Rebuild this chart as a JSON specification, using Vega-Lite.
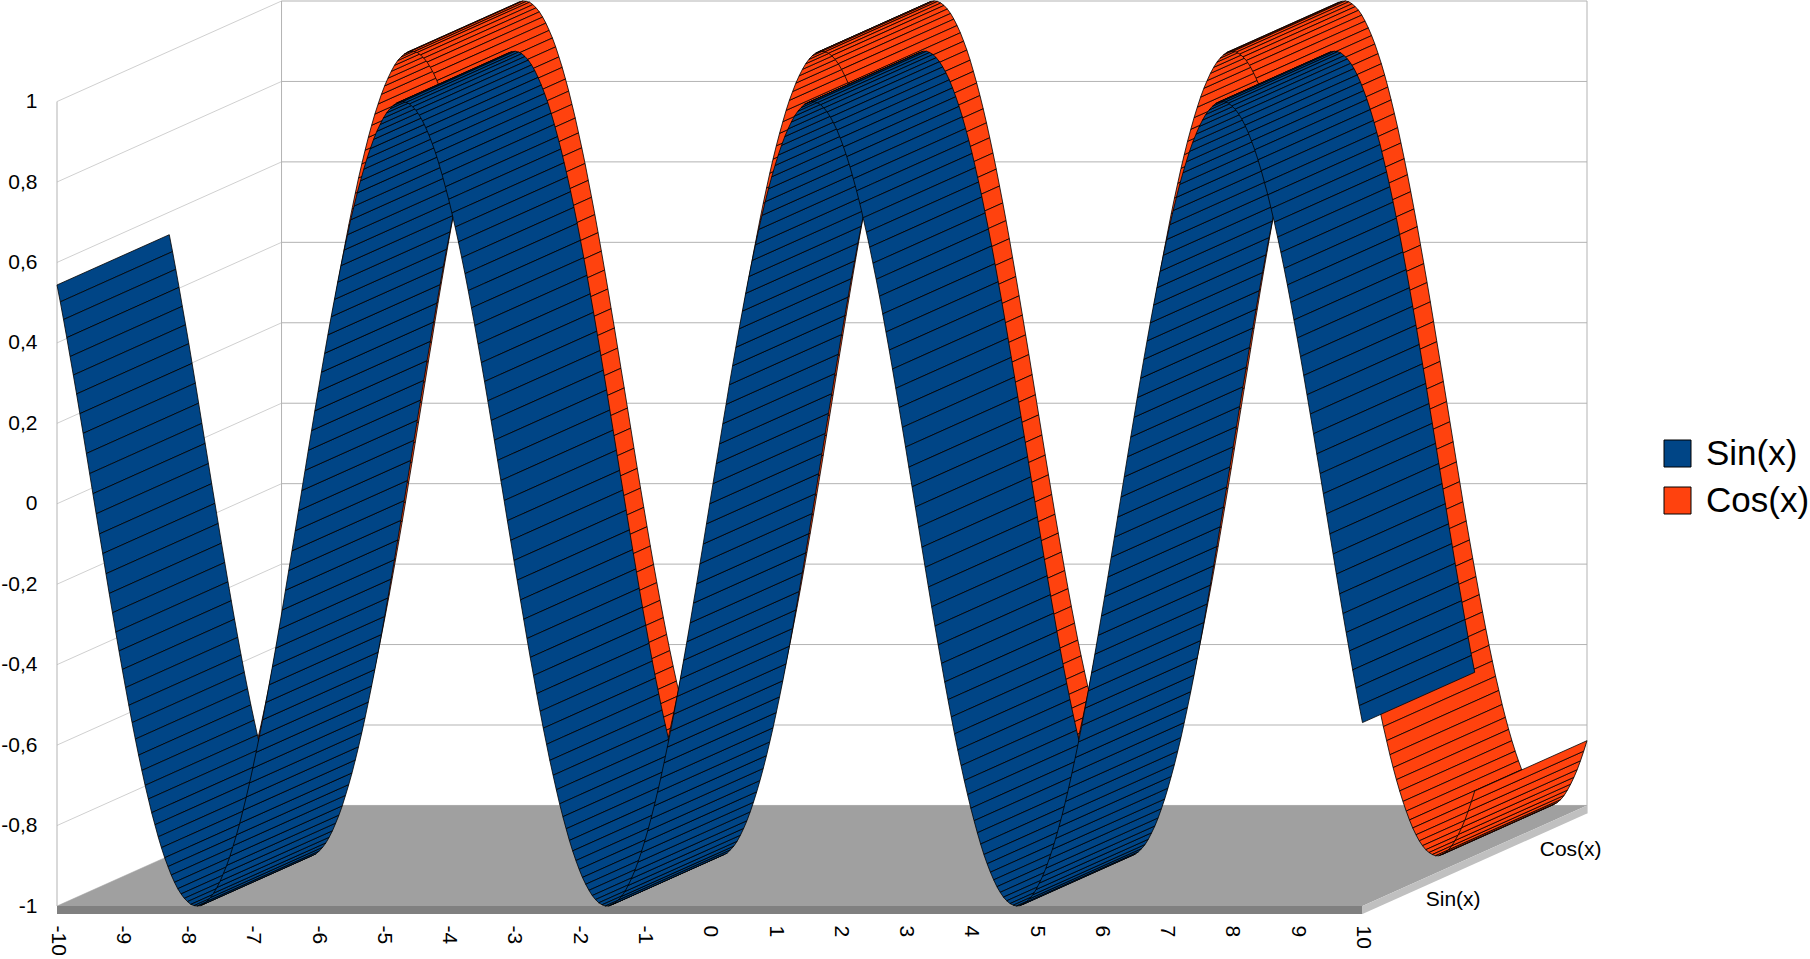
{"$schema":"https://vega.github.io/schema/vega-lite/v6.json","width":1530,"height":905,"padding":{"left":57,"top":1,"right":223,"bottom":53},"autosize":"none","background":"white","resolve":{"axis":{"x":"independent","y":"independent"}},"config":{"view":{"stroke":null},"axis":{"labelFont":"Liberation Sans","labelFontSize":21,"labelColor":"#000000","domain":false,"ticks":false,"grid":false,"title":null}},
"datasets":{"curve":[
{"x":-10,"sin":0.544,"cos":-0.839},{"x":-9.95,"sin":0.502,"cos":-0.865},{"x":-9.9,"sin":0.458,"cos":-0.889},{"x":-9.85,"sin":0.413,"cos":-0.911},{"x":-9.8,"sin":0.366,"cos":-0.930},{"x":-9.75,"sin":0.320,"cos":-0.947},{"x":-9.7,"sin":0.273,"cos":-0.962},{"x":-9.65,"sin":0.224,"cos":-0.975},{"x":-9.6,"sin":0.175,"cos":-0.985},{"x":-9.55,"sin":0.125,"cos":-0.992},{"x":-9.5,"sin":0.075,"cos":-0.997},{"x":-9.45,"sin":0.025,"cos":-1},{"x":-9.4,"sin":-0.025,"cos":-1},{"x":-9.35,"sin":-0.075,"cos":-0.997},{"x":-9.3,"sin":-0.124,"cos":-0.992},{"x":-9.25,"sin":-0.174,"cos":-0.985},{"x":-9.2,"sin":-0.223,"cos":-0.975},{"x":-9.15,"sin":-0.271,"cos":-0.963},{"x":-9.1,"sin":-0.319,"cos":-0.948},{"x":-9.05,"sin":-0.366,"cos":-0.931},
{"x":-9,"sin":-0.412,"cos":-0.911},{"x":-8.95,"sin":-0.457,"cos":-0.889},{"x":-8.9,"sin":-0.501,"cos":-0.865},{"x":-8.85,"sin":-0.544,"cos":-0.839},{"x":-8.8,"sin":-0.585,"cos":-0.811},{"x":-8.75,"sin":-0.625,"cos":-0.781},{"x":-8.7,"sin":-0.663,"cos":-0.749},{"x":-8.65,"sin":-0.700,"cos":-0.714},{"x":-8.6,"sin":-0.734,"cos":-0.679},{"x":-8.55,"sin":-0.768,"cos":-0.641},{"x":-8.5,"sin":-0.798,"cos":-0.602},{"x":-8.45,"sin":-0.828,"cos":-0.561},{"x":-8.4,"sin":-0.855,"cos":-0.519},{"x":-8.35,"sin":-0.880,"cos":-0.476},{"x":-8.3,"sin":-0.902,"cos":-0.431},{"x":-8.25,"sin":-0.923,"cos":-0.386},{"x":-8.2,"sin":-0.941,"cos":-0.340},{"x":-8.15,"sin":-0.957,"cos":-0.293},{"x":-8.1,"sin":-0.970,"cos":-0.245},{"x":-8.05,"sin":-0.981,"cos":-0.195},
{"x":-8,"sin":-0.989,"cos":-0.146},{"x":-7.95,"sin":-0.996,"cos":-0.096},{"x":-7.9,"sin":-0.999,"cos":-0.046},{"x":-7.85,"sin":-1,"cos":0.004},{"x":-7.8,"sin":-0.999,"cos":0.054},{"x":-7.75,"sin":-0.995,"cos":0.104},{"x":-7.7,"sin":-0.988,"cos":0.153},{"x":-7.65,"sin":-0.979,"cos":0.203},{"x":-7.6,"sin":-0.968,"cos":0.252},{"x":-7.55,"sin":-0.954,"cos":0.300},{"x":-7.5,"sin":-0.938,"cos":0.347},{"x":-7.45,"sin":-0.919,"cos":0.393},{"x":-7.4,"sin":-0.899,"cos":0.439},{"x":-7.35,"sin":-0.876,"cos":0.483},{"x":-7.3,"sin":-0.850,"cos":0.526},{"x":-7.25,"sin":-0.823,"cos":0.568},{"x":-7.2,"sin":-0.794,"cos":0.608},{"x":-7.15,"sin":-0.762,"cos":0.647},{"x":-7.1,"sin":-0.729,"cos":0.685},{"x":-7.05,"sin":-0.694,"cos":0.720},
{"x":-7,"sin":-0.657,"cos":0.754},{"x":-6.95,"sin":-0.618,"cos":0.786},{"x":-6.9,"sin":-0.578,"cos":0.816},{"x":-6.85,"sin":-0.537,"cos":0.844},{"x":-6.8,"sin":-0.494,"cos":0.869},{"x":-6.75,"sin":-0.450,"cos":0.893},{"x":-6.7,"sin":-0.405,"cos":0.914},{"x":-6.65,"sin":-0.359,"cos":0.933},{"x":-6.6,"sin":-0.312,"cos":0.950},{"x":-6.55,"sin":-0.264,"cos":0.965},{"x":-6.5,"sin":-0.215,"cos":0.977},{"x":-6.45,"sin":-0.166,"cos":0.986},{"x":-6.4,"sin":-0.117,"cos":0.993},{"x":-6.35,"sin":-0.067,"cos":0.998},{"x":-6.3,"sin":-0.017,"cos":1},{"x":-6.25,"sin":0.033,"cos":0.999},{"x":-6.2,"sin":0.083,"cos":0.997},{"x":-6.15,"sin":0.133,"cos":0.991},{"x":-6.1,"sin":0.182,"cos":0.983},{"x":-6.05,"sin":0.231,"cos":0.973},
{"x":-6,"sin":0.279,"cos":0.960},{"x":-5.95,"sin":0.327,"cos":0.945},{"x":-5.9,"sin":0.374,"cos":0.927},{"x":-5.85,"sin":0.420,"cos":0.908},{"x":-5.8,"sin":0.465,"cos":0.886},{"x":-5.75,"sin":0.508,"cos":0.861},{"x":-5.7,"sin":0.551,"cos":0.835},{"x":-5.65,"sin":0.592,"cos":0.806},{"x":-5.6,"sin":0.631,"cos":0.776},{"x":-5.55,"sin":0.669,"cos":0.743},{"x":-5.5,"sin":0.706,"cos":0.709},{"x":-5.45,"sin":0.740,"cos":0.672},{"x":-5.4,"sin":0.773,"cos":0.635},{"x":-5.35,"sin":0.803,"cos":0.596},{"x":-5.3,"sin":0.832,"cos":0.554},{"x":-5.25,"sin":0.859,"cos":0.512},{"x":-5.2,"sin":0.883,"cos":0.469},{"x":-5.15,"sin":0.906,"cos":0.424},{"x":-5.1,"sin":0.926,"cos":0.378},{"x":-5.05,"sin":0.943,"cos":0.331},
{"x":-5,"sin":0.959,"cos":0.284},{"x":-4.95,"sin":0.972,"cos":0.235},{"x":-4.9,"sin":0.982,"cos":0.187},{"x":-4.85,"sin":0.990,"cos":0.137},{"x":-4.8,"sin":0.996,"cos":0.087},{"x":-4.75,"sin":0.999,"cos":0.038},{"x":-4.7,"sin":1,"cos":-0.012},{"x":-4.65,"sin":0.998,"cos":-0.062},{"x":-4.6,"sin":0.994,"cos":-0.112},{"x":-4.55,"sin":0.987,"cos":-0.162},{"x":-4.5,"sin":0.978,"cos":-0.211},{"x":-4.45,"sin":0.966,"cos":-0.259},{"x":-4.4,"sin":0.952,"cos":-0.307},{"x":-4.35,"sin":0.935,"cos":-0.355},{"x":-4.3,"sin":0.916,"cos":-0.401},{"x":-4.25,"sin":0.895,"cos":-0.446},{"x":-4.2,"sin":0.872,"cos":-0.490},{"x":-4.15,"sin":0.846,"cos":-0.533},{"x":-4.1,"sin":0.818,"cos":-0.575},{"x":-4.05,"sin":0.788,"cos":-0.615},
{"x":-4,"sin":0.757,"cos":-0.654},{"x":-3.95,"sin":0.723,"cos":-0.691},{"x":-3.9,"sin":0.688,"cos":-0.726},{"x":-3.85,"sin":0.651,"cos":-0.759},{"x":-3.8,"sin":0.612,"cos":-0.791},{"x":-3.75,"sin":0.572,"cos":-0.821},{"x":-3.7,"sin":0.530,"cos":-0.848},{"x":-3.65,"sin":0.487,"cos":-0.874},{"x":-3.6,"sin":0.443,"cos":-0.897},{"x":-3.55,"sin":0.397,"cos":-0.918},{"x":-3.5,"sin":0.351,"cos":-0.936},{"x":-3.45,"sin":0.304,"cos":-0.953},{"x":-3.4,"sin":0.256,"cos":-0.967},{"x":-3.35,"sin":0.207,"cos":-0.978},{"x":-3.3,"sin":0.158,"cos":-0.987},{"x":-3.25,"sin":0.108,"cos":-0.994},{"x":-3.2,"sin":0.058,"cos":-0.998},{"x":-3.15,"sin":0.008,"cos":-1},{"x":-3.1,"sin":-0.042,"cos":-0.999},{"x":-3.05,"sin":-0.091,"cos":-0.996},
{"x":-3,"sin":-0.141,"cos":-0.990},{"x":-2.95,"sin":-0.190,"cos":-0.982},{"x":-2.9,"sin":-0.239,"cos":-0.971},{"x":-2.85,"sin":-0.287,"cos":-0.958},{"x":-2.8,"sin":-0.335,"cos":-0.942},{"x":-2.75,"sin":-0.382,"cos":-0.924},{"x":-2.7,"sin":-0.427,"cos":-0.904},{"x":-2.65,"sin":-0.472,"cos":-0.882},{"x":-2.6,"sin":-0.516,"cos":-0.857},{"x":-2.55,"sin":-0.558,"cos":-0.830},{"x":-2.5,"sin":-0.598,"cos":-0.801},{"x":-2.45,"sin":-0.638,"cos":-0.770},{"x":-2.4,"sin":-0.675,"cos":-0.737},{"x":-2.35,"sin":-0.711,"cos":-0.703},{"x":-2.3,"sin":-0.746,"cos":-0.666},{"x":-2.25,"sin":-0.778,"cos":-0.628},{"x":-2.2,"sin":-0.808,"cos":-0.589},{"x":-2.15,"sin":-0.837,"cos":-0.547},{"x":-2.1,"sin":-0.863,"cos":-0.505},{"x":-2.05,"sin":-0.887,"cos":-0.461},
{"x":-2,"sin":-0.909,"cos":-0.416},{"x":-1.95,"sin":-0.929,"cos":-0.370},{"x":-1.9,"sin":-0.946,"cos":-0.323},{"x":-1.85,"sin":-0.961,"cos":-0.276},{"x":-1.8,"sin":-0.974,"cos":-0.227},{"x":-1.75,"sin":-0.984,"cos":-0.178},{"x":-1.7,"sin":-0.992,"cos":-0.129},{"x":-1.65,"sin":-0.997,"cos":-0.079},{"x":-1.6,"sin":-1,"cos":-0.029},{"x":-1.55,"sin":-1,"cos":0.021},{"x":-1.5,"sin":-0.997,"cos":0.071},{"x":-1.45,"sin":-0.993,"cos":0.121},{"x":-1.4,"sin":-0.985,"cos":0.170},{"x":-1.35,"sin":-0.976,"cos":0.219},{"x":-1.3,"sin":-0.964,"cos":0.267},{"x":-1.25,"sin":-0.949,"cos":0.315},{"x":-1.2,"sin":-0.932,"cos":0.362},{"x":-1.15,"sin":-0.913,"cos":0.409},{"x":-1.1,"sin":-0.891,"cos":0.454},{"x":-1.05,"sin":-0.867,"cos":0.498},
{"x":-1,"sin":-0.841,"cos":0.540},{"x":-0.95,"sin":-0.813,"cos":0.582},{"x":-0.9,"sin":-0.783,"cos":0.622},{"x":-0.85,"sin":-0.751,"cos":0.660},{"x":-0.8,"sin":-0.717,"cos":0.697},{"x":-0.75,"sin":-0.682,"cos":0.732},{"x":-0.7,"sin":-0.644,"cos":0.765},{"x":-0.65,"sin":-0.605,"cos":0.796},{"x":-0.6,"sin":-0.565,"cos":0.825},{"x":-0.55,"sin":-0.523,"cos":0.853},{"x":-0.5,"sin":-0.479,"cos":0.878},{"x":-0.45,"sin":-0.435,"cos":0.900},{"x":-0.4,"sin":-0.389,"cos":0.921},{"x":-0.35,"sin":-0.343,"cos":0.939},{"x":-0.3,"sin":-0.296,"cos":0.955},{"x":-0.25,"sin":-0.247,"cos":0.969},{"x":-0.2,"sin":-0.199,"cos":0.980},{"x":-0.15,"sin":-0.149,"cos":0.989},{"x":-0.1,"sin":-0.100,"cos":0.995},{"x":-0.05,"sin":-0.050,"cos":0.999},
{"x":0,"sin":0,"cos":1},{"x":0.05,"sin":0.050,"cos":0.999},{"x":0.1,"sin":0.100,"cos":0.995},{"x":0.15,"sin":0.149,"cos":0.989},{"x":0.2,"sin":0.199,"cos":0.980},{"x":0.25,"sin":0.247,"cos":0.969},{"x":0.3,"sin":0.296,"cos":0.955},{"x":0.35,"sin":0.343,"cos":0.939},{"x":0.4,"sin":0.389,"cos":0.921},{"x":0.45,"sin":0.435,"cos":0.900},{"x":0.5,"sin":0.479,"cos":0.878},{"x":0.55,"sin":0.523,"cos":0.853},{"x":0.6,"sin":0.565,"cos":0.825},{"x":0.65,"sin":0.605,"cos":0.796},{"x":0.7,"sin":0.644,"cos":0.765},{"x":0.75,"sin":0.682,"cos":0.732},{"x":0.8,"sin":0.717,"cos":0.697},{"x":0.85,"sin":0.751,"cos":0.660},{"x":0.9,"sin":0.783,"cos":0.622},{"x":0.95,"sin":0.813,"cos":0.582},
{"x":1,"sin":0.841,"cos":0.540},{"x":1.05,"sin":0.867,"cos":0.498},{"x":1.1,"sin":0.891,"cos":0.454},{"x":1.15,"sin":0.913,"cos":0.409},{"x":1.2,"sin":0.932,"cos":0.362},{"x":1.25,"sin":0.949,"cos":0.315},{"x":1.3,"sin":0.964,"cos":0.267},{"x":1.35,"sin":0.976,"cos":0.219},{"x":1.4,"sin":0.985,"cos":0.170},{"x":1.45,"sin":0.993,"cos":0.121},{"x":1.5,"sin":0.997,"cos":0.071},{"x":1.55,"sin":1,"cos":0.021},{"x":1.6,"sin":1,"cos":-0.029},{"x":1.65,"sin":0.997,"cos":-0.079},{"x":1.7,"sin":0.992,"cos":-0.129},{"x":1.75,"sin":0.984,"cos":-0.178},{"x":1.8,"sin":0.974,"cos":-0.227},{"x":1.85,"sin":0.961,"cos":-0.276},{"x":1.9,"sin":0.946,"cos":-0.323},{"x":1.95,"sin":0.929,"cos":-0.370},
{"x":2,"sin":0.909,"cos":-0.416},{"x":2.05,"sin":0.887,"cos":-0.461},{"x":2.1,"sin":0.863,"cos":-0.505},{"x":2.15,"sin":0.837,"cos":-0.547},{"x":2.2,"sin":0.808,"cos":-0.589},{"x":2.25,"sin":0.778,"cos":-0.628},{"x":2.3,"sin":0.746,"cos":-0.666},{"x":2.35,"sin":0.711,"cos":-0.703},{"x":2.4,"sin":0.675,"cos":-0.737},{"x":2.45,"sin":0.638,"cos":-0.770},{"x":2.5,"sin":0.598,"cos":-0.801},{"x":2.55,"sin":0.558,"cos":-0.830},{"x":2.6,"sin":0.516,"cos":-0.857},{"x":2.65,"sin":0.472,"cos":-0.882},{"x":2.7,"sin":0.427,"cos":-0.904},{"x":2.75,"sin":0.382,"cos":-0.924},{"x":2.8,"sin":0.335,"cos":-0.942},{"x":2.85,"sin":0.287,"cos":-0.958},{"x":2.9,"sin":0.239,"cos":-0.971},{"x":2.95,"sin":0.190,"cos":-0.982},
{"x":3,"sin":0.141,"cos":-0.990},{"x":3.05,"sin":0.091,"cos":-0.996},{"x":3.1,"sin":0.042,"cos":-0.999},{"x":3.15,"sin":-0.008,"cos":-1},{"x":3.2,"sin":-0.058,"cos":-0.998},{"x":3.25,"sin":-0.108,"cos":-0.994},{"x":3.3,"sin":-0.158,"cos":-0.987},{"x":3.35,"sin":-0.207,"cos":-0.978},{"x":3.4,"sin":-0.256,"cos":-0.967},{"x":3.45,"sin":-0.304,"cos":-0.953},{"x":3.5,"sin":-0.351,"cos":-0.936},{"x":3.55,"sin":-0.397,"cos":-0.918},{"x":3.6,"sin":-0.443,"cos":-0.897},{"x":3.65,"sin":-0.487,"cos":-0.874},{"x":3.7,"sin":-0.530,"cos":-0.848},{"x":3.75,"sin":-0.572,"cos":-0.821},{"x":3.8,"sin":-0.612,"cos":-0.791},{"x":3.85,"sin":-0.651,"cos":-0.759},{"x":3.9,"sin":-0.688,"cos":-0.726},{"x":3.95,"sin":-0.723,"cos":-0.691},
{"x":4,"sin":-0.757,"cos":-0.654},{"x":4.05,"sin":-0.788,"cos":-0.615},{"x":4.1,"sin":-0.818,"cos":-0.575},{"x":4.15,"sin":-0.846,"cos":-0.533},{"x":4.2,"sin":-0.872,"cos":-0.490},{"x":4.25,"sin":-0.895,"cos":-0.446},{"x":4.3,"sin":-0.916,"cos":-0.401},{"x":4.35,"sin":-0.935,"cos":-0.355},{"x":4.4,"sin":-0.952,"cos":-0.307},{"x":4.45,"sin":-0.966,"cos":-0.259},{"x":4.5,"sin":-0.978,"cos":-0.211},{"x":4.55,"sin":-0.987,"cos":-0.162},{"x":4.6,"sin":-0.994,"cos":-0.112},{"x":4.65,"sin":-0.998,"cos":-0.062},{"x":4.7,"sin":-1,"cos":-0.012},{"x":4.75,"sin":-0.999,"cos":0.038},{"x":4.8,"sin":-0.996,"cos":0.087},{"x":4.85,"sin":-0.990,"cos":0.137},{"x":4.9,"sin":-0.982,"cos":0.187},{"x":4.95,"sin":-0.972,"cos":0.235},
{"x":5,"sin":-0.959,"cos":0.284},{"x":5.05,"sin":-0.943,"cos":0.331},{"x":5.1,"sin":-0.926,"cos":0.378},{"x":5.15,"sin":-0.906,"cos":0.424},{"x":5.2,"sin":-0.883,"cos":0.469},{"x":5.25,"sin":-0.859,"cos":0.512},{"x":5.3,"sin":-0.832,"cos":0.554},{"x":5.35,"sin":-0.803,"cos":0.596},{"x":5.4,"sin":-0.773,"cos":0.635},{"x":5.45,"sin":-0.740,"cos":0.672},{"x":5.5,"sin":-0.706,"cos":0.709},{"x":5.55,"sin":-0.669,"cos":0.743},{"x":5.6,"sin":-0.631,"cos":0.776},{"x":5.65,"sin":-0.592,"cos":0.806},{"x":5.7,"sin":-0.551,"cos":0.835},{"x":5.75,"sin":-0.508,"cos":0.861},{"x":5.8,"sin":-0.465,"cos":0.886},{"x":5.85,"sin":-0.420,"cos":0.908},{"x":5.9,"sin":-0.374,"cos":0.927},{"x":5.95,"sin":-0.327,"cos":0.945},
{"x":6,"sin":-0.279,"cos":0.960},{"x":6.05,"sin":-0.231,"cos":0.973},{"x":6.1,"sin":-0.182,"cos":0.983},{"x":6.15,"sin":-0.133,"cos":0.991},{"x":6.2,"sin":-0.083,"cos":0.997},{"x":6.25,"sin":-0.033,"cos":0.999},{"x":6.3,"sin":0.017,"cos":1},{"x":6.35,"sin":0.067,"cos":0.998},{"x":6.4,"sin":0.117,"cos":0.993},{"x":6.45,"sin":0.166,"cos":0.986},{"x":6.5,"sin":0.215,"cos":0.977},{"x":6.55,"sin":0.264,"cos":0.965},{"x":6.6,"sin":0.312,"cos":0.950},{"x":6.65,"sin":0.359,"cos":0.933},{"x":6.7,"sin":0.405,"cos":0.914},{"x":6.75,"sin":0.450,"cos":0.893},{"x":6.8,"sin":0.494,"cos":0.869},{"x":6.85,"sin":0.537,"cos":0.844},{"x":6.9,"sin":0.578,"cos":0.816},{"x":6.95,"sin":0.618,"cos":0.786},
{"x":7,"sin":0.657,"cos":0.754},{"x":7.05,"sin":0.694,"cos":0.720},{"x":7.1,"sin":0.729,"cos":0.685},{"x":7.15,"sin":0.762,"cos":0.647},{"x":7.2,"sin":0.794,"cos":0.608},{"x":7.25,"sin":0.823,"cos":0.568},{"x":7.3,"sin":0.850,"cos":0.526},{"x":7.35,"sin":0.876,"cos":0.483},{"x":7.4,"sin":0.899,"cos":0.439},{"x":7.45,"sin":0.919,"cos":0.393},{"x":7.5,"sin":0.938,"cos":0.347},{"x":7.55,"sin":0.954,"cos":0.300},{"x":7.6,"sin":0.968,"cos":0.252},{"x":7.65,"sin":0.979,"cos":0.203},{"x":7.7,"sin":0.988,"cos":0.153},{"x":7.75,"sin":0.995,"cos":0.104},{"x":7.8,"sin":0.999,"cos":0.054},{"x":7.85,"sin":1,"cos":0.004},{"x":7.9,"sin":0.999,"cos":-0.046},{"x":7.95,"sin":0.996,"cos":-0.096},
{"x":8,"sin":0.989,"cos":-0.146},{"x":8.05,"sin":0.981,"cos":-0.195},{"x":8.1,"sin":0.970,"cos":-0.245},{"x":8.15,"sin":0.957,"cos":-0.293},{"x":8.2,"sin":0.941,"cos":-0.340},{"x":8.25,"sin":0.923,"cos":-0.386},{"x":8.3,"sin":0.902,"cos":-0.431},{"x":8.35,"sin":0.880,"cos":-0.476},{"x":8.4,"sin":0.855,"cos":-0.519},{"x":8.45,"sin":0.828,"cos":-0.561},{"x":8.5,"sin":0.798,"cos":-0.602},{"x":8.55,"sin":0.768,"cos":-0.641},{"x":8.6,"sin":0.734,"cos":-0.679},{"x":8.65,"sin":0.700,"cos":-0.714},{"x":8.7,"sin":0.663,"cos":-0.749},{"x":8.75,"sin":0.625,"cos":-0.781},{"x":8.8,"sin":0.585,"cos":-0.811},{"x":8.85,"sin":0.544,"cos":-0.839},{"x":8.9,"sin":0.501,"cos":-0.865},{"x":8.95,"sin":0.457,"cos":-0.889},
{"x":9,"sin":0.412,"cos":-0.911},{"x":9.05,"sin":0.366,"cos":-0.931},{"x":9.1,"sin":0.319,"cos":-0.948},{"x":9.15,"sin":0.271,"cos":-0.963},{"x":9.2,"sin":0.223,"cos":-0.975},{"x":9.25,"sin":0.174,"cos":-0.985},{"x":9.3,"sin":0.124,"cos":-0.992},{"x":9.35,"sin":0.075,"cos":-0.997},{"x":9.4,"sin":0.025,"cos":-1},{"x":9.45,"sin":-0.025,"cos":-1},{"x":9.5,"sin":-0.075,"cos":-0.997},{"x":9.55,"sin":-0.125,"cos":-0.992},{"x":9.6,"sin":-0.175,"cos":-0.985},{"x":9.65,"sin":-0.224,"cos":-0.975},{"x":9.7,"sin":-0.273,"cos":-0.962},{"x":9.75,"sin":-0.320,"cos":-0.947},{"x":9.8,"sin":-0.366,"cos":-0.930},{"x":9.85,"sin":-0.413,"cos":-0.911},{"x":9.9,"sin":-0.458,"cos":-0.889},{"x":9.95,"sin":-0.502,"cos":-0.865},{"x":10,"sin":-0.544,"cos":-0.839}],
"levels":[{"lv":-1,"bk":-0.75},{"lv":-0.8,"bk":-0.55},{"lv":-0.6,"bk":-0.35},{"lv":-0.4,"bk":-0.15},{"lv":-0.2,"bk":0.05},{"lv":0,"bk":0.25},{"lv":0.2,"bk":0.45},{"lv":0.4,"bk":0.65},{"lv":0.6,"bk":0.85},{"lv":0.8,"bk":1.05},{"lv":1,"bk":1.25}]},
"layer":[
{"data":{"name":"levels"},"mark":{"type":"rule","color":"#d0d0d0","strokeWidth":1},"encoding":{"x":{"datum":-10,"type":"quantitative","scale":{"domain":[-10,13.44],"nice":false,"zero":false},"axis":{"values":[-10,-9,-8,-7,-6,-5,-4,-3,-2,-1,0,1,2,3,4,5,6,7,8,9,10],"labelAngle":90,"labelPadding":19,"labelOverlap":false,"labelFlush":false,"labelExpr":"toString(datum.value)"}},"x2":{"datum":-6.56},"y":{"field":"lv","type":"quantitative","scale":{"domain":[-1,1.25],"nice":false,"zero":false},"axis":{"values":[-1,-0.8,-0.6,-0.4,-0.2,0,0.2,0.4,0.6,0.8,1],"labelPadding":20,"labelExpr":"replace(toString(datum.value),'.',',')"}},"y2":{"field":"bk"}}},
{"data":{"name":"levels"},"mark":{"type":"rule","color":"#b3b3b3","strokeWidth":1},"encoding":{"x":{"datum":-6.56,"type":"quantitative","axis":null},"x2":{"datum":13.44},"y":{"field":"bk","type":"quantitative","axis":null}}},
{"data":{"values":[{"x":-10,"y":-1,"y2":1},{"x":-6.56,"y":-0.75,"y2":1.25},{"x":13.44,"y":-0.77,"y2":1.25}]},"mark":{"type":"rule","color":"#b3b3b3","strokeWidth":1},"encoding":{"x":{"field":"x","type":"quantitative","axis":null},"y":{"field":"y","type":"quantitative","axis":null},"y2":{"field":"y2"}}},
{"data":{"values":[{"k":0,"x":-10,"y":-1},{"k":1,"x":10,"y":-1},{"k":2,"x":13.44,"y":-0.75},{"k":3,"x":-6.56,"y":-0.75}]},"mark":{"type":"line","fill":"#a0a0a0","stroke":null},"encoding":{"x":{"field":"x","type":"quantitative","axis":null},"y":{"field":"y","type":"quantitative","axis":null},"order":{"field":"k"}}},
{"data":{"values":[{"k":0,"x":-10,"y":-1},{"k":1,"x":10,"y":-1},{"k":2,"x":10,"y":-1.02},{"k":3,"x":-10,"y":-1.02}]},"mark":{"type":"line","fill":"#808080","stroke":null},"encoding":{"x":{"field":"x","type":"quantitative","axis":null},"y":{"field":"y","type":"quantitative","axis":null},"order":{"field":"k"}}},
{"data":{"values":[{"k":0,"x":10,"y":-1},{"k":1,"x":13.44,"y":-0.75},{"k":2,"x":13.44,"y":-0.77},{"k":3,"x":10,"y":-1.02}]},"mark":{"type":"line","fill":"#c0c0c0","stroke":null},"encoding":{"x":{"field":"x","type":"quantitative","axis":null},"y":{"field":"y","type":"quantitative","axis":null},"order":{"field":"k"}}},
{"data":{"name":"curve"},"transform":[{"window":[{"op":"lead","field":"x","as":"nx"},{"op":"lead","field":"cos","as":"nv"}],"sort":[{"field":"x"}]},{"filter":"isValid(datum.nx)"},{"calculate":"[datum.x+1.72,datum.nx+1.72,datum.nx+3.44,datum.x+3.44,datum.x+1.72]","as":"px"},{"calculate":"[datum.cos+0.125,datum.nv+0.125,datum.nv+0.25,datum.cos+0.25,datum.cos+0.125]","as":"py"},{"calculate":"[0,1,2,3,4]","as":"k"},{"flatten":["px","py","k"]}],"mark":{"type":"line","stroke":"#000000","strokeWidth":0.8},"encoding":{"x":{"field":"px","type":"quantitative","axis":null},"y":{"field":"py","type":"quantitative","axis":null},"detail":{"field":"x"},"order":{"field":"k"},"fill":{"datum":"Cos(x)","scale":{"domain":["Sin(x)","Cos(x)"],"range":["#004586","#ff420e"]},"legend":{"title":null,"orient":"none","legendX":1603,"legendY":435,"symbolType":"square","symbolSize":729,"symbolStrokeColor":"#000000","symbolStrokeWidth":1,"labelFont":"Liberation Sans","labelFontSize":35,"labelColor":"#000000","labelOffset":11,"rowPadding":11,"padding":0,"labelLimit":300}}}},
{"data":{"name":"curve"},"transform":[{"window":[{"op":"lead","field":"x","as":"nx"},{"op":"lead","field":"sin","as":"nv"}],"sort":[{"field":"x"}]},{"filter":"isValid(datum.nx)"},{"calculate":"[datum.x,datum.nx,datum.nx+1.72,datum.x+1.72,datum.x]","as":"px"},{"calculate":"[datum.sin,datum.nv,datum.nv+0.125,datum.sin+0.125,datum.sin]","as":"py"},{"calculate":"[0,1,2,3,4]","as":"k"},{"flatten":["px","py","k"]}],"mark":{"type":"line","stroke":"#000000","strokeWidth":0.8},"encoding":{"x":{"field":"px","type":"quantitative","axis":null},"y":{"field":"py","type":"quantitative","axis":null},"detail":{"field":"x"},"order":{"field":"k"},"fill":{"datum":"Sin(x)","scale":{"domain":["Sin(x)","Cos(x)"],"range":["#004586","#ff420e"]}}}},
{"data":{"values":[{"name":"Sin(x)","x":11.39,"y":-0.985},{"name":"Cos(x)","x":13.19,"y":-0.861}]},"mark":{"type":"text","font":"Liberation Sans","fontSize":21,"color":"#000000"},"encoding":{"x":{"field":"x","type":"quantitative","axis":null},"y":{"field":"y","type":"quantitative","axis":null},"text":{"field":"name"}}}
]}
